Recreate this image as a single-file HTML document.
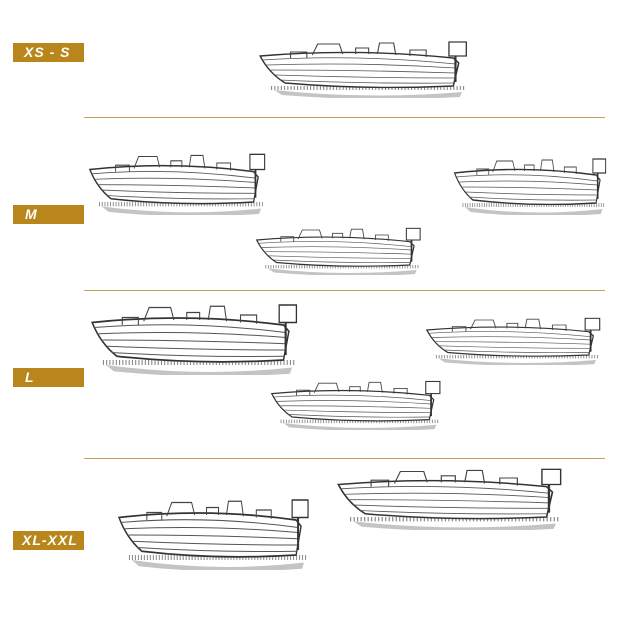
<!DOCTYPE html>
<html><head><meta charset="utf-8"><style>
body{margin:0;background:#fff;width:630px;height:630px;position:relative;overflow:hidden;font-family:"Liberation Sans",sans-serif}
.lab{position:absolute;left:13px;width:71px;height:19px;background:#b8861a;color:#fff;font-weight:bold;font-style:italic;font-size:14px;line-height:19px;box-sizing:border-box;padding-left:12px;letter-spacing:1px}
.ln{position:absolute;left:84px;width:521px;height:1px;background:#c9a055}
svg{position:absolute;left:0;top:0}
</style></head><body>
<div class="lab" style="top:43px;padding-left:11px">XS - S</div>
<div class="lab" style="top:205px">M</div>
<div class="lab" style="top:368px">L</div>
<div class="lab" style="top:531px;padding-left:9px">XL-XXL</div>
<div class="ln" style="top:117px"></div>
<div class="ln" style="top:290px"></div>
<div class="ln" style="top:458px"></div>
<svg width="630" height="630" viewBox="0 0 630 630">
<defs>
<symbol id="b" viewBox="0 0 200 60" preserveAspectRatio="none">
<path d="M15 52 Q100 62 188 54 L186 59 Q100 64 22 57Z" fill="#c4c4c4"/>
<path d="M12 50 L192 50" stroke="#888" stroke-width="4" stroke-dasharray="1 2"/>
<path d="M2 18 Q90 10 180 20 L185 25 L180 48 Q100 52 25 45 Q10 35 2 18Z" fill="#fff" stroke="#333" stroke-width="1.4"/>
<path d="M4 22 Q90 16 182 26 M8 27 Q95 24 182 30 M12 32 Q95 32 182 35 M16 37 Q100 40 181 40 M20 42 Q100 46 181 45" fill="none" stroke="#555" stroke-width=".8"/>
<path d="M30 20 L30 14 L45 14 L45 20 M50 17 L55 6 L75 6 L78 16 M90 16 L90 10 L102 10 L102 16 M110 16 L112 5 L125 5 L127 17 M140 18 L140 12 L155 12 L155 19" fill="none" stroke="#444" stroke-width="1"/>
<rect x="176" y="4" width="16" height="14" fill="#fff" stroke="#333" stroke-width="1.2"/>
<path d="M182 18 L182 44" stroke="#333" stroke-width="2"/>
</symbol>
</defs>
<use href="#b" x="258" y="38" width="217" height="60"/>
<use href="#b" x="88" y="150" width="184" height="65"/>
<use href="#b" x="453" y="155" width="159" height="60"/>
<use href="#b" x="255" y="225" width="172" height="50"/>
<use href="#b" x="90" y="300" width="215" height="75"/>
<use href="#b" x="425" y="315" width="182" height="50"/>
<use href="#b" x="270" y="378" width="177" height="52"/>
<use href="#b" x="117" y="495" width="199" height="75"/>
<use href="#b" x="336" y="465" width="234" height="65"/>
</svg>
</body></html>
